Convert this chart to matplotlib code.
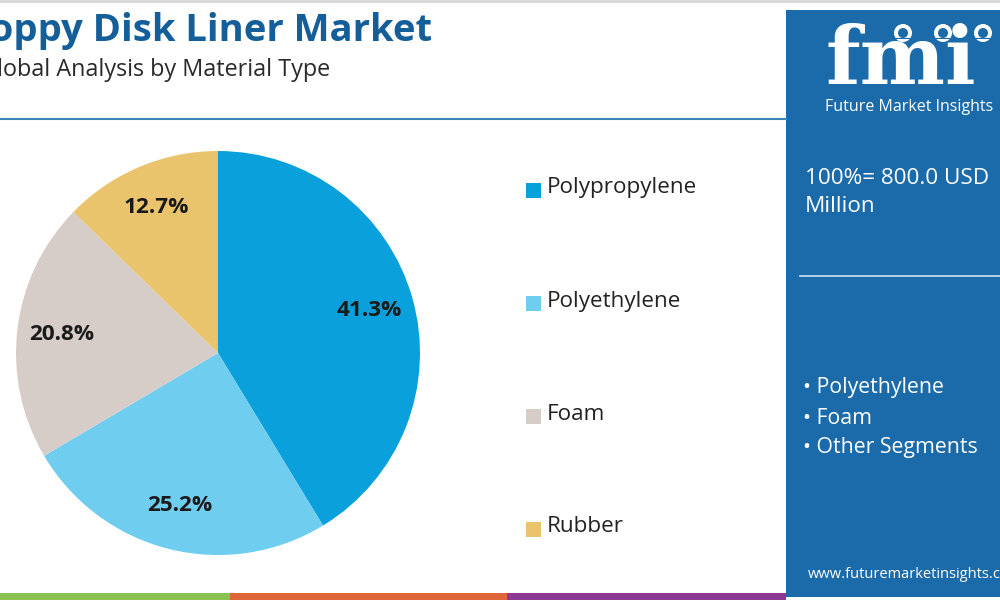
import matplotlib.pyplot as plt
from matplotlib.patches import Rectangle, Circle

# data
materials = ['Polypropylene', 'Polyethylene', 'Foam', 'Rubber']
shares = [41.3, 25.2, 20.8, 12.7]
colors = ['#0aa0dc', '#6fcdf0', '#d6ccc8', '#e9c46d']
side_items = ['Polyethylene', 'Foam', 'Other Segments']

title = 'Floppy Disk Liner Market'
subtitle = 'Global Analysis by Material Type'
total_text = '100%= 800.0 USD\nMillion'

panel_blue = '#1b6aaa'

plt.rcParams['font.family'] = ['Open Sans', 'DejaVu Sans']

fig = plt.figure(figsize=(10, 6), dpi=100)
fig.patch.set_facecolor('white')

# background layer in pixel coords
bg = fig.add_axes([0, 0, 1, 1])
bg.set_xlim(0, 1000)
bg.set_ylim(600, 0)
bg.axis('off')

bg.add_patch(Rectangle((0, 0), 1000, 3, color='#d9d9d9', lw=0))
bg.plot([0, 786], [119, 119], color='#3a86b4', lw=1.5)

# blue side panel
bg.add_patch(Rectangle((786, 10), 214, 587, color=panel_blue, lw=0))

# bottom colour strip
strip = [(0, 230, '#8cc152'), (230, 507, '#e0663a'), (507, 786, '#8b3a8f')]
for x0, x1, c in strip:
    bg.add_patch(Rectangle((x0, 593), x1 - x0, 7, color=c, lw=0))

# title (cut at the left edge like the reference)
bg.text(432, 31, title, ha='right', va='center', fontsize=27.5,
        fontweight='bold', color='#145f99')
bg.text(330, 70, subtitle, ha='right', va='center', fontsize=16.8,
        color='#2a2a2a')

# logo
bg.text(826, 101, 'fmi', ha='left', va='bottom', fontsize=58,
        fontweight='bold', family='DejaVu Serif', color='white')
for yy in range(38, 88, 5):
    bg.plot([820, 1000], [yy, yy], color=panel_blue, lw=0.8)
for cx in [903, 943, 983]:
    bg.add_patch(Circle((cx, 33), 9, color='white', lw=0))
    bg.add_patch(Circle((cx, 33), 5, color=panel_blue, lw=0))
bg.text(825, 107, 'Future Market Insights', ha='left', va='center',
        fontsize=11.5, color='white')

bg.text(805, 192.5, total_text, ha='left', va='center', fontsize=16.2,
        color='white', linespacing=1.45)
bg.plot([800, 1000], [276, 276], color='#cfe3f2', lw=1.2)

for i, item in enumerate(side_items):
    bg.text(803, 388 + 30 * i, '\u2022 ' + item, ha='left', va='center',
            fontsize=15.3, color='white')

bg.text(808, 574, 'www.futuremarketinsights.com', ha='left', va='center',
        fontsize=10.5, color='white')

# legend
for i, (m, c) in enumerate(zip(materials, colors)):
    y = 190 + 113 * i
    bg.add_patch(Rectangle((526, y - 7.5), 15, 15, color=c, lw=0))
    bg.text(547, y - 2, m, ha='left', va='center', fontsize=16.2, color='#222222')

# pie
ax = fig.add_axes([0.016, (600 - 353 - 202) / 600, 0.404, 404 / 600])
wedges, texts, autotexts = ax.pie(shares, colors=colors, startangle=90,
                                  counterclock=False, autopct='%.1f%%',
                                  pctdistance=0.78,
                                  wedgeprops=dict(linewidth=0))
for t in autotexts:
    t.set_fontsize(16.2)
    t.set_fontweight('bold')
    t.set_color('#1a1a1a')
ax.set_xlim(-1, 1)
ax.set_ylim(-1, 1)
ax.set_aspect('equal')

fig.savefig('out.png', dpi=100)
